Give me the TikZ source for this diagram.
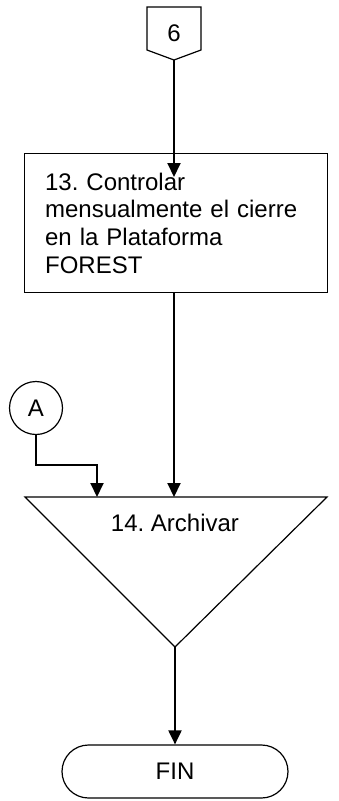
\documentclass[tikz,border=0pt]{standalone}
\usepackage{fontspec}
\setmainfont{Liberation Sans}
\usetikzlibrary{arrows.meta,shapes.misc}
\frenchspacing

\begin{document}
\begin{tikzpicture}[
        x=1pt,y=-1pt,
        txt/.style={font=\fontsize{24}{27.7}\selectfont},
        shp/.style={draw=black,line width=1.2pt},
        flow/.style={line width=2pt,-{Triangle[width=13pt,length=14pt]}},
    ]
\useasboundingbox (0,0) rectangle (338,801);

% off-page connector 6
\coordinate (p1) at (147,7);
\coordinate (p2) at (201,7);
\draw[shp,line join=miter] (p1) -- (p2) -- (201,50) -- (174,60) coordinate (pbot)
      -- (147,50) -- cycle;
\node[txt] (six) at (174,33) {6};

% task 13
\node[shp,txt,rectangle,minimum width=303pt,minimum height=139pt,
      text width=262pt,align=left,inner sep=0pt,anchor=north west] (ctrl) at (24,153)
      {13. Controlar\\mensualmente el cierre\\en la Plataforma\\FOREST};
\coordinate (in13) at (174,177);

% connector A
\node[shp,txt,circle,minimum size=53pt,inner sep=0pt] (A) at (36,408) {A};

% task 14 (archive)
\coordinate (t1) at (25,497);
\coordinate (t2) at (327,497);
\coordinate (tap) at (175,647);
\draw[shp] (t1) -- (t2) -- (tap) -- cycle;
\node[txt] (arch) at (175,523) {14. Archivar};
\coordinate (inA) at (97,497);
\coordinate (in14) at (174,497);

% end
\node[shp,txt,rounded rectangle,minimum width=226pt,minimum height=53pt,
      inner sep=0pt] (fin) at (175,771.5) {FIN};

% arrows
\draw[flow] (pbot) -- (in13);
\draw[flow] (ctrl.south -| in14) -- (in14);
\draw[flow] (A.south) |- (97,465) -- (inA);
\draw[flow] (tap) -- (fin.north);
\end{tikzpicture}
\end{document}
